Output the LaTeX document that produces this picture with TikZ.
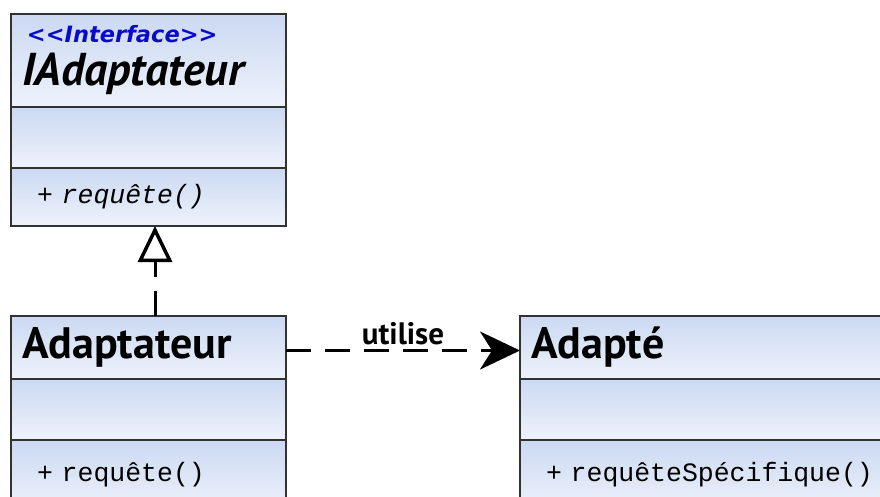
\documentclass[tikz,border=0pt]{standalone}
\usepackage{fontspec}
\usepackage{tikz}
\usetikzlibrary{arrows.meta, positioning}
\newfontfamily\hdrfont{PT Sans}
\newfontfamily\stereofont{DejaVu Sans}
\newfontfamily\codefont{Liberation Mono}
\definecolor{umlblue}{RGB}{203,217,242}
\definecolor{umllight}{RGB}{238,242,251}
\definecolor{umlline}{RGB}{50,50,50}
\definecolor{stereo}{RGB}{10,10,205}

\tikzset{
  part/.style={draw=umlline, line width=1.5pt, top color=umlblue, bottom color=umllight,
    minimum width=275pt, text width=253pt, inner xsep=11pt, inner ysep=0pt,
    outer sep=0pt, align=left},
  hdr/.style={part, anchor=north west, minimum height=63pt,
    font=\hdrfont\bfseries\fontsize{44}{46}\selectfont},
  att/.style={part, minimum height=61pt},
  ops/.style={part, font=\codefont\fontsize{26.5}{28}\selectfont},
  dep/.style={line width=3pt, dash pattern=on 25pt off 14pt}
}

\begin{document}
\begin{tikzpicture}[x=1pt, y=-1pt]
      \useasboundingbox (0,0) rectangle (880,496);
      \clip (0,0) rectangle (880,496);

      % interface
      \node[hdr, minimum height=93pt] (ia) at (11,14)
        {\hspace*{5pt}{\stereofont\fontsize{22.5}{24}\selectfont\itshape\color{stereo}<{}<Interface>{}>}\\[-3pt]{\fontsize{46}{46}\selectfont\itshape IAdaptateur}};
      \node[att, below=0pt of ia] (ia-att) {};
      \node[ops, minimum height=58pt, below=0pt of ia-att] (ia-ops) {\hspace*{15pt}\itshape + requête()};

      % adaptateur
      \node[hdr] (ad) at (11,316) {Adaptateur};
      \node[att, below=0pt of ad] (ad-att) {};
      \node[ops, minimum height=70pt, below=0pt of ad-att] (ad-ops) {\hspace*{15pt}+ requête()\\[12pt]};

      % adapte
      \node[hdr, minimum width=380pt, text width=358pt] (adp) at (520,316) {Adapté};
      \node[att, minimum width=380pt, text width=358pt, below=0pt of adp] (adp-att) {};
      \node[ops, minimum height=70pt, minimum width=380pt, text width=358pt, below=0pt of adp-att] (adp-ops) {\hspace*{15pt}+ requêteSpécifique()\\[12pt]};

      \draw[dep, -{Triangle[open, length=36pt, width=34pt, line width=3.5pt]}]
        ([xshift=6.5pt]ad.north) -- ([xshift=6.5pt]ia-ops.south);
      \draw[dep, -{Stealth[length=40pt, width=38pt, inset=12pt]}]
        ([yshift=-3pt]ad.east) -- node[above=1pt, font=\hdrfont\bfseries\fontsize{31}{33}\selectfont] (use) {utilise} ([yshift=-3pt]adp.west);
    \end{tikzpicture}
\end{document}
